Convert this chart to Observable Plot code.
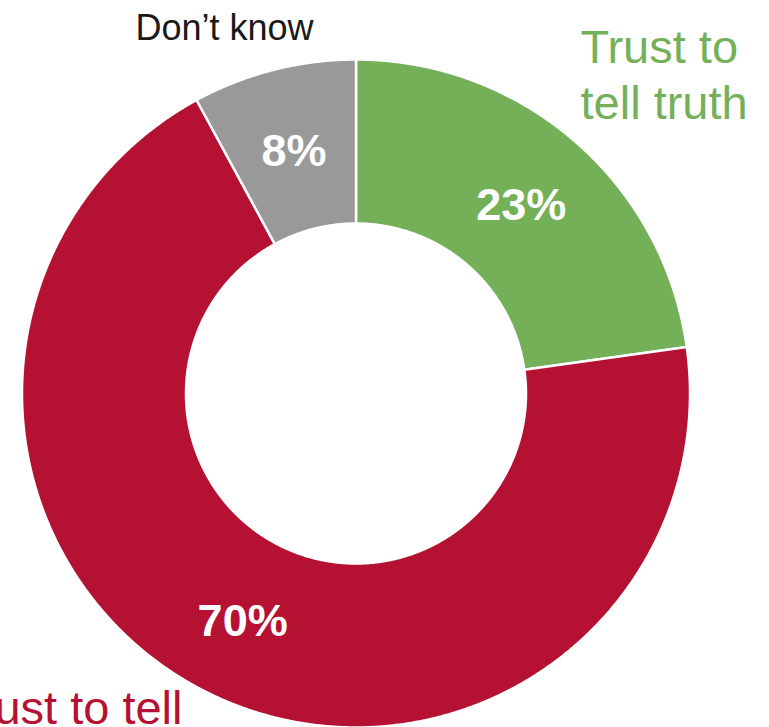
<!DOCTYPE html>
<html><head><meta charset="utf-8">
<script src="https://cdn.jsdelivr.net/npm/d3@7"></script>
<script src="https://cdn.jsdelivr.net/npm/@observablehq/plot@0.6"></script>
<style>html,body{margin:0;padding:0;background:#fff;} #chart svg{display:block;overflow:hidden;}</style>
</head><body><div id="chart"></div>
<script>
// ---- data ----
const categories = ["Trust to tell truth", "Don’t trust to tell truth", "Don’t know"];
const values = [23, 70, 8];
const valueLabels = ["23%", "70%", "8%"];
const categoryLabels = ["Trust to\ntell truth", "Don’t trust to tell\ntruth", "Don’t know"];
const colors = ["#74b058", "#b51233", "#999999"];

// ---- layout (not data) ----
const W = 769, H = 727;
const cx = 355.5, cy = 393, R = 334;
const innerRatio = 170 / 334;
const font = "'Liberation Sans', Arial, Helvetica, sans-serif";

const pie = d3.pie().sort(null).value(d => d.value)(
  categories.map((c, i) => ({cat: c, value: values[i], label: valueLabels[i]}))
);

// slice outlines in unit coordinates (angle 0 = top, clockwise)
const pts = [];
for (const a of pie) {
  const n = Math.max(2, Math.ceil((a.endAngle - a.startAngle) / 0.005));
  for (let k = 0; k <= n; k++) {
    const t = a.startAngle + (a.endAngle - a.startAngle) * k / n;
    pts.push({cat: a.data.cat, x: Math.sin(t), y: -Math.cos(t)});
  }
  for (let k = n; k >= 0; k--) {
    const t = a.startAngle + (a.endAngle - a.startAngle) * k / n;
    pts.push({cat: a.data.cat, x: innerRatio * Math.sin(t), y: -innerRatio * Math.cos(t)});
  }
}

const midR = (1 + innerRatio) / 2;
const centroids = pie.map(a => {
  const m = (a.startAngle + a.endAngle) / 2;
  return {label: a.data.label, x: midR * Math.sin(m), y: -midR * Math.cos(m)};
});

// outside label placements, pixel -> unit
const ux = px => (px - cx) / R, uy = py => (py - cy) / R;
const outside = [
  {text: categoryLabels[0], x: ux(580), y: uy(118), anchor: "start", color: colors[0], size: 47},
  {text: categoryLabels[1], x: ux(182), y: uy(779), anchor: "end", color: colors[1], size: 47},
  {text: categoryLabels[2], x: ux(224), y: uy(39), anchor: "middle", color: "#1a1a1a", size: 36}
];

const chart = Plot.plot({
  width: W, height: H, margin: 0,
  style: {fontFamily: font, background: "#fff"},
  x: {domain: [-1, 1], range: [cx - R, cx + R], axis: null},
  y: {domain: [-1, 1], range: [cy - R, cy + R], axis: null},
  color: {domain: categories, range: colors},
  marks: [
    Plot.line(pts, {x: "x", y: "y", z: "cat", fill: "cat", stroke: "white", strokeWidth: 2.5, curve: "linear-closed"}),
    Plot.text(centroids, {x: "x", y: "y", text: "label", fill: "white", fontSize: 45, fontWeight: "bold", lineAnchor: "bottom", dy: 17}),
    ...outside.map(o => Plot.text([o], {x: "x", y: "y", text: "text", textAnchor: o.anchor, fill: o.color, fontSize: o.size, lineAnchor: "bottom", lineHeight: 1.19}))
  ]
});
document.getElementById("chart").appendChild(chart);
</script>
</body></html>
